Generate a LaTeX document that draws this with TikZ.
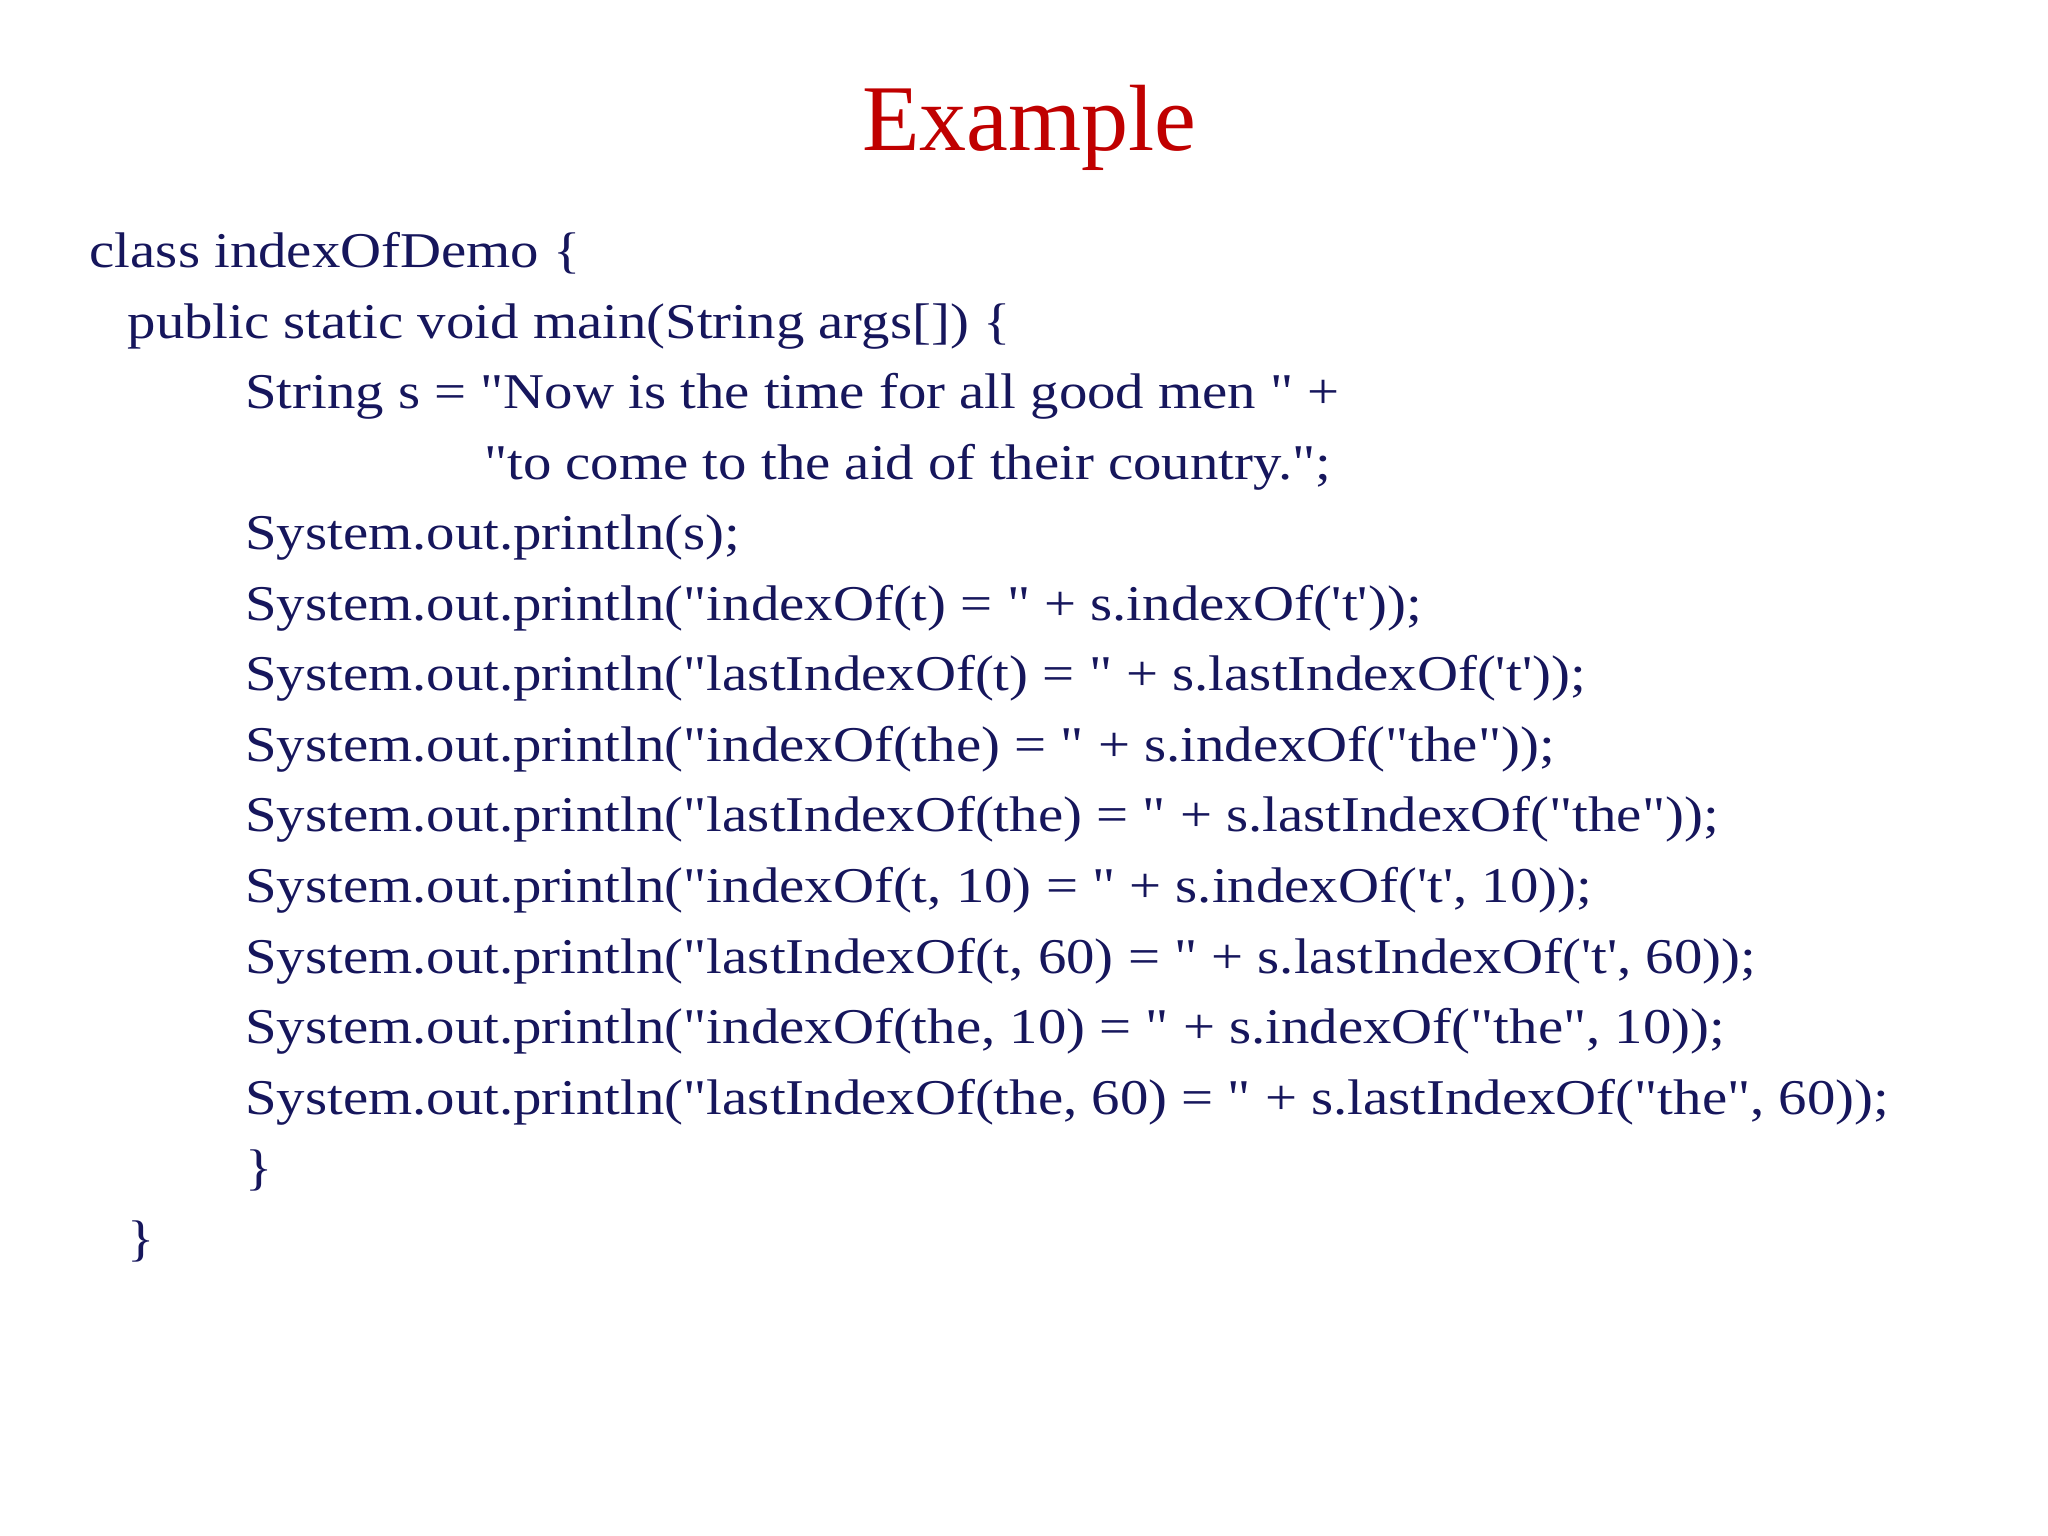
\documentclass[tikz,border=0pt]{standalone}
\usepackage{fontspec}
\newfontfamily\codefont{Liberation Serif}
\newfontfamily\widecodefont[FakeStretch=1.135]{Liberation Serif}
\usepackage{tikz}
\usetikzlibrary{positioning}
\definecolor{codeblue}{RGB}{22,22,92}
\definecolor{titlered}{RGB}{192,0,0}
\tikzset{
  code/.style={anchor=base west, inner sep=0pt, text=codeblue, font=\widecodefont\fontsize{10.9pt}{13pt}\selectfont},
  title/.style={anchor=base, inner sep=0pt, text=titlered, font=\codefont\fontsize{20.5pt}{24pt}\selectfont}
}
\begin{document}
\begin{tikzpicture}
\useasboundingbox (0,0) rectangle (15.68,-11.76);
\node[title] (ttl) at (7.88,-1.15) {Example};
\node[code] (l1) at (0.68,-2.05) {class indexOfDemo \{};
\node[code] (l2) at (0.97,-2.59) {public static void main(String args[]) \{};
\node[code] (l3) at (1.87,-3.13) {String s = "Now is the time for all good men " +};
\node[code] (l4) at (3.70,-3.67) {"to come to the aid of their country.";};
\node[code] (l5) at (1.87,-4.21) {System.out.println(s);};
\node[code] (l6) at (1.87,-4.75) {System.out.println("indexOf(t) = " + s.indexOf('t'));};
\node[code] (l7) at (1.87,-5.29) {System.out.println("lastIndexOf(t) = " + s.lastIndexOf('t'));};
\node[code] (l8) at (1.87,-5.83) {System.out.println("indexOf(the) = " + s.indexOf("the"));};
\node[code] (l9) at (1.87,-6.37) {System.out.println("lastIndexOf(the) = " + s.lastIndexOf("the"));};
\node[code] (l10) at (1.87,-6.91) {System.out.println("indexOf(t, 10) = " + s.indexOf('t', 10));};
\node[code] (l11) at (1.87,-7.45) {System.out.println("lastIndexOf(t, 60) = " + s.lastIndexOf('t', 60));};
\node[code] (l12) at (1.87,-7.99) {System.out.println("indexOf(the, 10) = " + s.indexOf("the", 10));};
\node[code] (l13) at (1.87,-8.53) {System.out.println("lastIndexOf(the, 60) = " + s.lastIndexOf("the", 60));};
\node[code] (l14) at (1.87,-9.07) {\}};
\node[code] (l15) at (0.97,-9.61) {\}};
\end{tikzpicture}
\end{document}
